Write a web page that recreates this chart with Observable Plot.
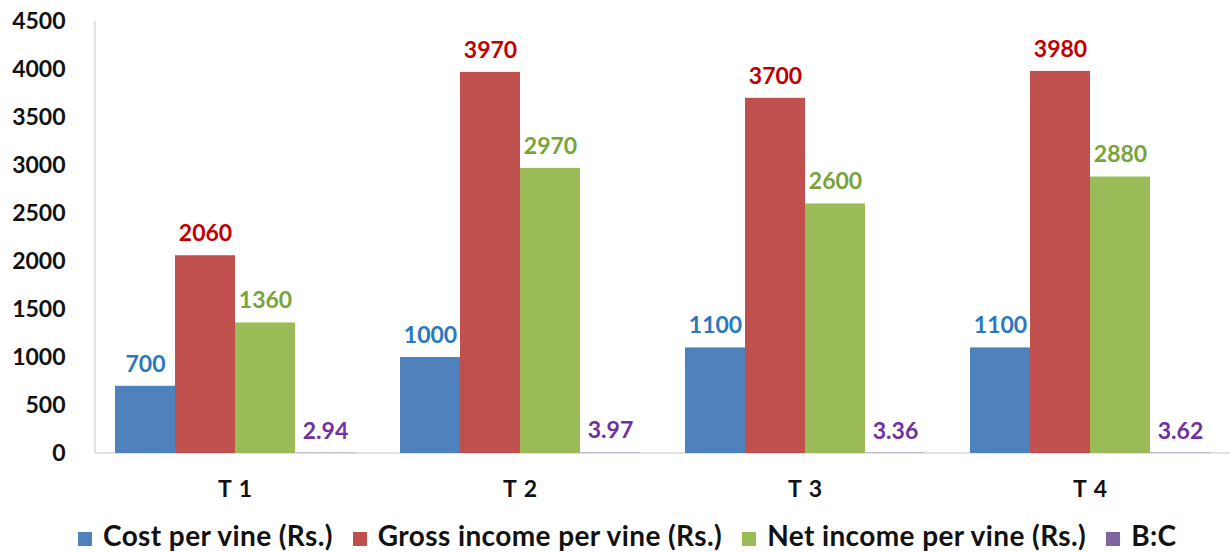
<!DOCTYPE html>
<html>
<head>
<meta charset="utf-8">
<script src="https://cdn.jsdelivr.net/npm/d3@7"></script>
<script src="https://cdn.jsdelivr.net/npm/@observablehq/plot@0.6"></script>
<style>
  html, body { margin: 0; padding: 0; background: #fff; }
  #chart svg { display: block; }
  .legend { display: flex; justify-content: flex-start; align-items: center;
            font-family: Lato, "Open Sans", sans-serif; font-weight: bold; font-size: 28px;
            letter-spacing: 0.4px;
            color: #111; height: 48px; box-sizing: border-box; padding-top: 12px; padding-left: 78px; }
  .legend .item { display: flex; align-items: center; margin-right: 20px; white-space: nowrap; }
  .legend span.sw { display: inline-block; width: 14px; height: 14px; margin-right: 11px; margin-top: 8px; }
</style>
</head>
<body>
<div id="chart"></div>
<div class="legend" id="legend"></div>
<script>
// Treatments and per-vine economics
const treatments = ["T 1", "T 2", "T 3", "T 4"];
const seriesNames = ["Cost per vine (Rs.)", "Gross income per vine (Rs.)", "Net income per vine (Rs.)", "B:C"];
const costPerVine = [700, 1000, 1100, 1100];
const grossIncome = [2060, 3970, 3700, 3980];
const netIncome = [1360, 2970, 2600, 2880];
const benefitCost = [2.94, 3.97, 3.36, 3.62];
const yTicks = [0, 500, 1000, 1500, 2000, 2500, 3000, 3500, 4000, 4500];

const barColors = ["#4F81BD", "#C0504D", "#9BBB59", "#8064A2"];
const labelColors = ["#2A78BD", "#C00000", "#78A33A", "#7030A0"];

const seriesValues = [costPerVine, grossIncome, netIncome, benefitCost];
const rows = [];
treatments.forEach((t, i) => {
  seriesNames.forEach((s, j) => {
    rows.push({treatment: t, series: s, value: seriesValues[j][i]});
  });
});

const font = "Lato, 'Open Sans', sans-serif";
const axisGray = "#D9D9D9";

const labelMarks = seriesNames.map((s, j) =>
  Plot.text(rows.filter(d => d.series === s), {
    fx: "treatment", x: "series", y: "value",
    text: d => String(d.value),
    fill: labelColors[j],
    dy: -22, lineAnchor: "middle",
    fontSize: 23, fontWeight: "bold", fontFamily: font
  })
);

const chart = Plot.plot({
  width: 1230,
  height: 505,
  marginLeft: 95,
  marginRight: 0,
  marginTop: 21,
  marginBottom: 52,
  style: {fontFamily: font, background: "#fff"},
  fx: {domain: treatments, paddingInner: 0.158, paddingOuter: 0.07, label: null},
  x: {domain: seriesNames, padding: 0, axis: null},
  y: {domain: [0, 4500], label: null},
  color: {domain: seriesNames, range: barColors},
  marks: [
    Plot.barY(rows, {fx: "treatment", x: "series", y: "value", fill: "series"}),
    ...labelMarks,
    Plot.axisY({ticks: yTicks, tickFormat: d => String(d), tickSize: 0, tickPadding: 50,
                fill: "#111", fontSize: 23, fontWeight: "bold", label: null}),
    Plot.axisFx({anchor: "bottom", tickSize: 0, tickPadding: 27,
                 fill: "#111", fontSize: 23, fontWeight: "bold", label: null})
  ]
});

// Category labels along the bottom are letter-spaced a little
d3.select(chart).selectAll("[aria-label='fx-axis tick label'] text").style("letter-spacing", "1px");

// Axis lines spanning the whole plot area (value axis on the left, baseline at zero),
// placed from the chart's own fx and y scales and drawn beneath the bars
const fxRange = chart.scale("fx").range;
const yScale = chart.scale("y");
const y0 = yScale.apply(0);
const yTop = yScale.apply(4500);
const axisLines = d3.select(chart).insert("g", "g")
  .attr("stroke", axisGray).attr("stroke-width", 1.5);
axisLines.append("line")
  .attr("x1", fxRange[0]).attr("x2", fxRange[0]).attr("y1", yTop).attr("y2", y0);
axisLines.append("line")
  .attr("x1", fxRange[0]).attr("x2", fxRange[1]).attr("y1", y0).attr("y2", y0);

document.getElementById("chart").appendChild(chart);

// Legend row below the chart
const legend = document.getElementById("legend");
seriesNames.forEach((s, j) => {
  const item = document.createElement("div");
  item.className = "item";
  const sw = document.createElement("span");
  sw.className = "sw";
  sw.style.background = barColors[j];
  item.appendChild(sw);
  item.appendChild(document.createTextNode(s));
  legend.appendChild(item);
});
</script>
</body>
</html>
